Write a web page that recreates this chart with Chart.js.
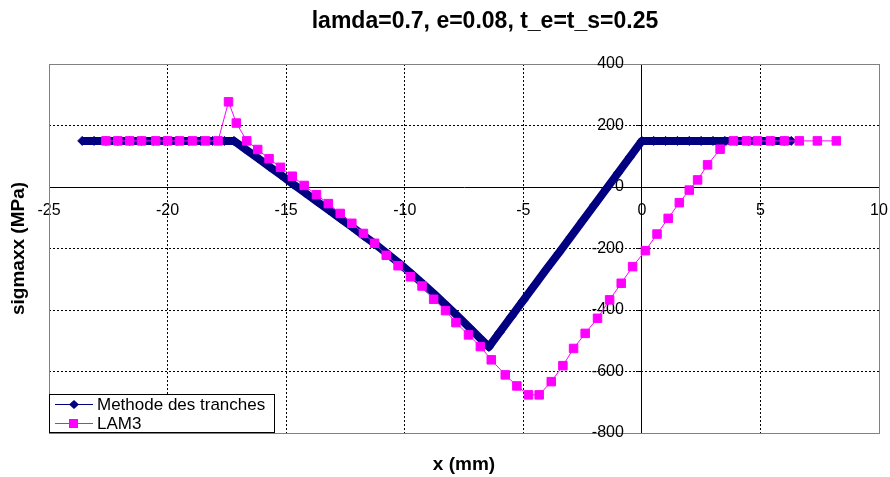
<!DOCTYPE html>
<html>
<head>
<meta charset="utf-8">
<script src="https://cdn.jsdelivr.net/npm/chart.js@4.4.1/dist/chart.umd.min.js"></script>
<style>
  html, body { margin: 0; padding: 0; background: #fff; }
  #wrap { width: 890px; height: 477px; }
</style>
</head>
<body>
<div id="wrap"><canvas id="graphe" width="890" height="477"></canvas></div>
<script>
// Données
const titre = 'lamda=0.7, e=0.08, t_e=t_s=0.25';
const titreX = 'x (mm)';
const titreY = 'sigmaxx (MPa)';
const xTicks = [-25, -20, -15, -10, -5, 0, 5, 10];
const yTicks = [400, 200, 0, -200, -400, -600, -800];

// Methode des tranches
const tranchesX = [-23.6, -23.1, -22.6, -22.1, -21.6, -21.1, -20.6, -20.1, -19.6, -19.1, -18.6, -18.1, -17.6, -17.2,
  -16.7, -16.2, -15.7, -15.2, -14.7, -14.2, -13.7, -13.2, -12.7, -12.2, -11.7, -11.2, -10.7, -10.2,
  -9.7, -9.2, -8.7, -8.2, -7.7, -7.2, -6.7, -6.45,
  -6.0, -5.5, -5.0, -4.5, -4.0, -3.5, -3.0, -2.5, -2.0, -1.5, -1.0, -0.5, 0,
  0.5, 1.0, 1.5, 2.0, 2.5, 3.0, 3.5, 4.0, 4.5, 5.0, 5.5, 6.0, 6.3];
const tranchesY = [150, 150, 150, 150, 150, 150, 150, 150, 150, 150, 150, 150, 150, 150,
  122, 94, 66, 38, 9, -19, -47, -75, -103, -131, -160, -188, -219, -250,
  -283, -317, -352, -388, -425, -463, -501, -520,
  -473, -421, -369, -317, -265, -214, -162, -110, -58, -6, 46, 98, 150,
  150, 150, 150, 150, 150, 150, 150, 150, 150, 150, 150, 150, 150];

// LAM3
const lam3X = [-22.6, -22.1, -21.6, -21.1, -20.5, -20.0, -19.5, -18.95, -18.4, -17.87, -17.43, -17.1,
  -16.66, -16.2, -15.72, -15.24, -14.74, -14.24, -13.72, -13.22, -12.72, -12.23, -11.74, -11.27, -10.78,
  -10.28, -9.76, -9.27, -8.78, -8.28, -7.84, -7.31, -6.81, -6.35, -5.76, -5.27, -4.78, -4.33,
  -3.82, -3.33, -2.88, -2.39, -1.87, -1.36, -0.87, -0.39, 0.15, 0.64, 1.11, 1.58, 2.0, 2.35, 2.77, 3.3,
  3.86, 4.41, 4.87, 5.42, 6.01, 6.64, 7.4, 8.2];
const lam3Y = [150, 150, 150, 150, 150, 150, 150, 150, 150, 150, 277, 208,
  150, 122, 92, 64, 35, 5, -25, -54, -86, -118, -151, -183, -222,
  -256, -292, -322, -365, -402, -441, -481, -519, -562, -611, -647, -676, -676,
  -633, -581, -525, -476, -427, -367, -313, -259, -207, -153, -102, -51, -10, 23, 72, 123,
  150, 150, 150, 150, 150, 150, 150, 150];

const police = '"Liberation Sans", Arial, sans-serif';
Chart.defaults.font.family = police;
Chart.defaults.color = '#000';

function points(xs, ys) {
    return xs.map((x, i) => ({ x: x, y: ys[i] }));
}

// cadre gris, graduations de l'axe y, titres et légende
const decor = {
    id: 'decor',
    beforeDatasetsDraw(chart) {
        const a = chart.chartArea;
        const ctx = chart.ctx;
        ctx.save();
        ctx.strokeStyle = '#808080';
        ctx.lineWidth = 1;
        ctx.strokeRect(a.left + 0.5, a.top + 0.5, a.right - a.left, a.bottom - a.top);

        // étiquettes de l'axe y, à gauche de l'axe x = 0
        const sx = chart.scales.x, sy = chart.scales.y;
        const x0 = sx.getPixelForValue(0);
        ctx.fillStyle = '#000';
        ctx.font = '16px ' + police;
        ctx.textAlign = 'right';
        ctx.textBaseline = 'middle';
        sy.ticks.forEach(t => {
            ctx.fillText(String(t.value), x0 - 18, sy.getPixelForValue(t.value));
        });
        ctx.restore();
    },
    afterDraw(chart) {
        const a = chart.chartArea;
        const ctx = chart.ctx;
        ctx.save();
        ctx.fillStyle = '#000';

        // titre
        ctx.font = 'bold 23px ' + police;
        ctx.textAlign = 'center';
        ctx.textBaseline = 'alphabetic';
        ctx.fillText(titre, 485, 28);

        // titres des axes
        ctx.font = 'bold 19px ' + police;
        ctx.textBaseline = 'middle';
        ctx.fillText(titreX, (a.left + a.right) / 2, 465);
        ctx.save();
        ctx.translate(19, (a.top + a.bottom) / 2);
        ctx.rotate(-Math.PI / 2);
        ctx.fillText(titreY, 0, 0);
        ctx.restore();

        // légende
        const lx = a.left, ly = a.bottom - 39, lw = 226, lh = 39;
        ctx.fillStyle = '#fff';
        ctx.fillRect(lx, ly, lw, lh);
        ctx.strokeStyle = '#000';
        ctx.lineWidth = 1;
        ctx.strokeRect(lx + 0.5, ly + 0.5, lw - 1, lh - 1);
        chart.data.datasets.forEach((ds, i) => {
            const y = ly + 10 + i * 19;
            ctx.strokeStyle = ds.borderColor;
            ctx.lineWidth = 1;
            ctx.beginPath();
            ctx.moveTo(lx + 6, y + 0.5);
            ctx.lineTo(lx + 44, y + 0.5);
            ctx.stroke();
            ctx.fillStyle = ds.borderColor;
            if (ds.pointStyle === 'rect') {
                ctx.fillRect(lx + 20, y - 4, 9, 9);
            } else {
                ctx.beginPath();
                ctx.moveTo(lx + 25, y - 4);
                ctx.lineTo(lx + 30, y + 0.5);
                ctx.lineTo(lx + 25, y + 5);
                ctx.lineTo(lx + 20, y + 0.5);
                ctx.closePath();
                ctx.fill();
            }
            ctx.fillStyle = '#000';
            ctx.font = '17px ' + police;
            ctx.textAlign = 'left';
            ctx.textBaseline = 'middle';
            ctx.fillText(ds.label, lx + 48, y + 1);
        });
        ctx.restore();
    }
};

const sansBords = (valeurs, couleur) => (c) => {
    if (c.tick && (c.tick.value === valeurs[0] || c.tick.value === valeurs[valeurs.length - 1])) {
        return 'rgba(0,0,0,0)';
    }
    return couleur;
};

new Chart(document.getElementById('graphe'), {
    type: 'scatter',
    data: {
        datasets: [{
            label: 'Methode des tranches',
            data: points(tranchesX, tranchesY),
            showLine: true,
            borderColor: '#000080',
            backgroundColor: '#000080',
            borderWidth: 8,
            borderJoinStyle: 'round',
            pointStyle: 'rectRot',
            pointRadius: 4.5,
            pointBorderWidth: 1,
            order: 2
        }, {
            label: 'LAM3',
            data: points(lam3X, lam3Y),
            showLine: true,
            borderColor: '#FF00FF',
            backgroundColor: '#FF00FF',
            borderWidth: 1,
            pointStyle: 'rect',
            pointRadius: 6,
            pointBorderWidth: 1,
            order: 1
        }]
    },
    options: {
        responsive: false,
        animation: false,
        layout: { padding: { left: 49, top: 64, right: 11, bottom: 44 } },
        plugins: {
            legend: { display: false },
            tooltip: { enabled: false }
        },
        scales: {
            x: {
                type: 'linear',
                min: -25,
                max: 10,
                position: { y: 0 },
                afterBuildTicks: axis => { axis.ticks = xTicks.map(v => ({ value: v })); },
                grid: { color: sansBords(xTicks, '#000'), lineWidth: 1, tickLength: 14, tickColor: 'rgba(0,0,0,0)', tickBorderDash: [] },
                border: { display: true, color: '#000', width: 1, dash: [2, 2] },
                ticks: { font: { size: 16 }, padding: 0, maxRotation: 0, autoSkip: false }
            },
            y: {
                type: 'linear',
                min: -800,
                max: 400,
                position: { x: 0 },
                afterBuildTicks: axis => { axis.ticks = yTicks.map(v => ({ value: v })); },
                grid: { color: sansBords(yTicks, '#000'), lineWidth: 1, tickLength: 5, tickColor: '#000', tickBorderDash: [] },
                border: { display: true, color: '#000', width: 1, dash: [2, 2] },
                ticks: { display: false, autoSkip: false }
            }
        }
    },
    plugins: [decor]
});
</script>
</body>
</html>
